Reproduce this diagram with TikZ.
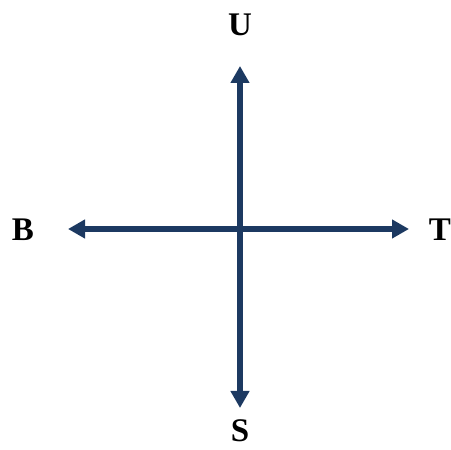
\documentclass[tikz,border=0pt]{standalone}
\usepackage{fontspec}
\setmainfont{Liberation Serif}
\usepackage{xcolor}
\usepackage{tikz}
\usetikzlibrary{arrows.meta,positioning}

\definecolor{axisblue}{RGB}{28,57,97}

\begin{document}
\begin{tikzpicture}[
    x=1pt, y=1pt,
    >={Triangle[length=17pt,width=18pt]},
    axis/.style={<->, line width=6pt, draw=axisblue},
    dirlabel/.style={font=\fontsize{33}{34}\selectfont\bfseries, inner sep=0pt, text=black}
  ]
    \useasboundingbox (0,0) rectangle (451,450);

    % ends of the two axes
    \coordinate (centre) at (240,221);
    \coordinate (upend) at (240,384);
    \coordinate (downend) at (240,42);
    \coordinate (leftend) at (68,221);
    \coordinate (rightend) at (409,221);

    \node[dirlabel] (U) at (240,425) {U};
    \node[dirlabel] (S) at (240,19) {S};
    \node[dirlabel] (B) at (23,220) {B};
    \node[dirlabel] (T) at (440,220) {T};

    \draw[axis] (leftend) -- (rightend);
    \draw[axis] (downend) -- (upend);
  \end{tikzpicture}
\end{document}
